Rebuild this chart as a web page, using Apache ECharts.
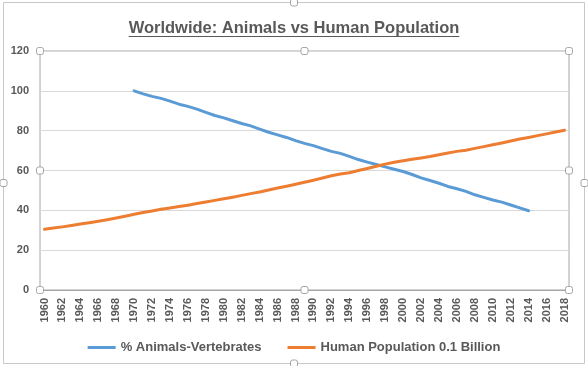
<!DOCTYPE html>
<html>
<head>
<meta charset="utf-8">
<script src="https://cdn.jsdelivr.net/npm/echarts@6/dist/echarts.min.js"></script>
<style>
  html, body { margin: 0; padding: 0; background: #ffffff; }
  #chart { width: 588px; height: 366px; }
</style>
</head>
<body>
<div id="chart"></div>
<script>
// ---- data ----
const years = ['1960','1961','1962','1963','1964','1965','1966','1967','1968','1969',
  '1970','1971','1972','1973','1974','1975','1976','1977','1978','1979',
  '1980','1981','1982','1983','1984','1985','1986','1987','1988','1989',
  '1990','1991','1992','1993','1994','1995','1996','1997','1998','1999',
  '2000','2001','2002','2003','2004','2005','2006','2007','2008','2009',
  '2010','2011','2012','2013','2014','2015','2016','2017','2018'];

const animalsVertebrates = [null,null,null,null,null,null,null,null,null,null,
  100,98.5,97.2,96.2,94.8,93.3,92.2,90.8,89.2,87.6,
  86.4,85.0,83.6,82.4,80.8,79.2,77.9,76.6,75.0,73.6,
  72.5,71.0,69.6,68.6,67.1,65.5,64.2,63.0,61.8,60.6,
  59.5,58.0,56.3,55.0,53.6,52.0,50.8,49.5,47.8,46.5,
  45.2,44.1,42.7,41.2,39.8,null,null,null,null];

const humanPopulation = [30.5,31.1,31.7,32.4,33.1,33.8,34.5,35.3,36.1,37.0,
  38.0,38.9,39.7,40.5,41.2,41.9,42.6,43.4,44.2,45.0,
  45.8,46.6,47.5,48.4,49.2,50.2,51.2,52.1,53.1,54.1,
  55.1,56.2,57.4,58.2,58.9,60.0,61.0,62.1,63.2,64.1,
  64.9,65.6,66.3,67.0,67.9,68.8,69.6,70.2,71.1,72.0,
  72.9,73.8,74.8,75.8,76.6,77.5,78.4,79.3,80.2];

const seriesNames = ['% Animals-Vertebrates', 'Human Population 0.1 Billion'];
const titleText = 'Worldwide: Animals vs Human Population';
const yTicks = { min: 0, max: 120, interval: 20 };

// ---- layout / style ----
const W = 588, H = 366;
const G = { left: 40, right: 19, top: 51, bottom: 76 };
const FONT = '"Liberation Sans", Arial, sans-serif';
const TEXT = '#595959';
const titleFontSize = 16.5;

const mc = document.createElement('canvas').getContext('2d');
mc.font = 'bold ' + titleFontSize + 'px ' + FONT;
const titleW = mc.measureText(titleText).width;

function handle(cx, cy) {
  return { type: 'rect', shape: { x: cx - 3.5, y: cy - 3.5, width: 7, height: 7, r: 2 },
    style: { fill: '#ffffff', stroke: '#A6A6A6', lineWidth: 1 }, z: 100 };
}
const gx0 = G.left, gx1 = W - G.right, gy0 = G.top, gy1 = H - G.bottom;
const gxm = (gx0 + gx1) / 2, gym = (gy0 + gy1) / 2;
const ox0 = 3.5, oy0 = 2.5, ox1 = 584.5, oy1 = 363.5;

const graphics = [
  { type: 'rect', shape: { x: ox0, y: oy0, width: ox1 - ox0, height: oy1 - oy0 },
    style: { fill: 'none', stroke: '#C8C8C8', lineWidth: 1 }, z: 0, silent: true },
  { type: 'text', x: W / 2, y: 19.5,
    style: { text: titleText, font: 'bold ' + titleFontSize + 'px ' + FONT, fill: TEXT,
      textAlign: 'center', textVerticalAlign: 'top' }, z: 10 },
  { type: 'line', shape: { x1: W / 2 - titleW / 2, y1: 36.5, x2: W / 2 + titleW / 2, y2: 36.5 },
    style: { stroke: TEXT, lineWidth: 1 }, z: 10 },
  handle(gx0, gy0), handle(gxm, gy0), handle(gx1, gy0),
  handle(gx0, gym), handle(gx1, gym),
  handle(gx0, gy1), handle(gxm, gy1), handle(gx1, gy1),
  handle((ox0 + ox1) / 2, oy0), handle((ox0 + ox1) / 2, oy1),
  handle(ox0, (oy0 + oy1) / 2), handle(ox1, (oy0 + oy1) / 2)
];

const chart = echarts.init(document.getElementById('chart'), null, { renderer: 'canvas' });
chart.setOption({
  animation: false,
  backgroundColor: '#ffffff',
  textStyle: { fontFamily: FONT },
  grid: { left: G.left, right: G.right, top: G.top, bottom: G.bottom,
    show: true, borderColor: '#A6A6A6', borderWidth: 1, containLabel: false },
  legend: {
    data: seriesNames, left: 'center', top: 336,
    icon: 'rect', itemWidth: 28, itemHeight: 3, itemGap: 26,
    textStyle: { fontSize: 13, fontWeight: 'bold', color: TEXT, fontFamily: FONT }
  },
  xAxis: {
    type: 'category', data: years, boundaryGap: true,
    axisLine: { show: true, lineStyle: { color: '#A6A6A6' } },
    axisTick: { show: false },
    splitLine: { show: false },
    axisLabel: { interval: 1, rotate: 90, margin: 8, fontSize: 11, fontWeight: 'bold',
      color: TEXT, fontFamily: FONT }
  },
  yAxis: {
    type: 'value', min: yTicks.min, max: yTicks.max, interval: yTicks.interval,
    axisLine: { show: false }, axisTick: { show: false },
    splitLine: { show: true, lineStyle: { color: '#D9D9D9', width: 1 } },
    axisLabel: { margin: 11, fontSize: 11, fontWeight: 'bold', color: TEXT, fontFamily: FONT }
  },
  series: [
    { name: seriesNames[0], type: 'line', data: animalsVertebrates, symbol: 'none',
      lineStyle: { width: 3, color: '#5B9BD5', cap: 'round', join: 'round' },
      itemStyle: { color: '#5B9BD5' }, connectNulls: false },
    { name: seriesNames[1], type: 'line', data: humanPopulation, symbol: 'none',
      lineStyle: { width: 3, color: '#ED7D31', cap: 'round', join: 'round' },
      itemStyle: { color: '#ED7D31' } }
  ],
  graphic: graphics
});
</script>
</body>
</html>
